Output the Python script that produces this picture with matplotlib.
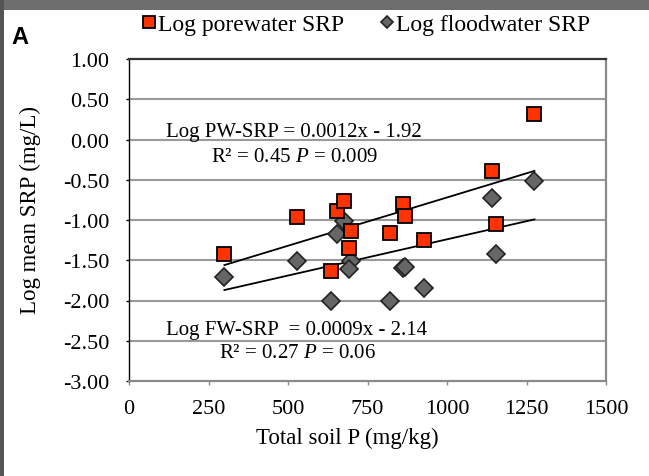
import matplotlib
matplotlib.use("Agg")
import matplotlib.pyplot as plt
from matplotlib.patches import Rectangle
from matplotlib.lines import Line2D
import numpy as np

# ---- data ----
soil_p = [300, 528, 636, 655, 676, 698, 692, 821, 863, 868, 928, 1143, 1153, 1275]
log_pw_srp = [-1.42, -0.96, -1.63, -0.89, -0.77, -1.14, -1.35, -1.16, -0.80, -0.95, -1.25, -0.39, -1.05, 0.32]
log_fw_srp = [-1.71, -1.51, -2.00, -1.18, -1.01, -1.51, -1.61, -2.00, -1.60, -1.58, -1.85, -0.73, -1.42, -0.51]
pw_slope, pw_intercept = 0.0012, -1.92
fw_slope, fw_intercept = 0.0009, -2.14
x_ticks = [0, 250, 500, 750, 1000, 1250, 1500]
y_ticks = [1.00, 0.50, 0.00, -0.50, -1.00, -1.50, -2.00, -2.50, -3.00]

plt.rcParams['font.family'] = ['Liberation Serif', 'DejaVu Serif']
plt.rcParams['mathtext.fontset'] = 'custom'
plt.rcParams['mathtext.rm'] = 'Liberation Serif'
plt.rcParams['mathtext.it'] = 'Liberation Serif:italic'

W, H = 649, 477
fig = plt.figure(figsize=(W / 100, H / 100), dpi=100, facecolor='white')

# dark photo border
fig.patches.append(Rectangle((0, 1 - 11 / H), 1, 11 / H, transform=fig.transFigure,
                             facecolor='#6e6e6e', edgecolor='none', zorder=-10))
fig.patches.append(Rectangle((0, 0), 4 / W, 1, transform=fig.transFigure,
                             facecolor='#555555', edgecolor='none', zorder=-10))

left, right, top, bottom = 129, 606, 60, 382
ax = fig.add_axes([left / W, 1 - bottom / H, (right - left) / W, (bottom - top) / H])

ax.set_xlim(0, 1500)
ax.set_ylim(-3.0, 1.0)
ax.set_xticks(x_ticks)
ax.set_xticklabels([str(v) for v in x_ticks])
ax.set_yticks(y_ticks)
ax.set_yticklabels([f"{v:.2f}" for v in y_ticks])

for y in y_ticks[1:-1]:
    ax.axhline(y, color='#9a9a9a', lw=1.5, zorder=0)

ax.spines['left'].set_color('black')
ax.spines['left'].set_linewidth(1.0)
ax.spines['top'].set_color('#333333')
ax.spines['top'].set_linewidth(1.6)
ax.spines['right'].set_color('#8a8a8a')
ax.spines['right'].set_linewidth(1.6)
ax.spines['bottom'].set_color('#8a8a8a')
ax.spines['bottom'].set_linewidth(1.6)

ax.tick_params(axis='x', direction='out', length=3, width=1, color='#8a8a8a',
               labelsize=16, pad=10)
ax.tick_params(axis='y', direction='out', length=2, width=1, color='black',
               labelsize=16, pad=12)

# trend lines
xs = np.array([min(soil_p), max(soil_p)])
ax.plot(xs, pw_slope * xs + pw_intercept, color='black', lw=1.3, zorder=2)
ax.plot(xs, fw_slope * xs + fw_intercept, color='black', lw=1.3, zorder=2)

# points
ax.plot(soil_p, log_fw_srp, linestyle='none', marker='D', markersize=9,
        markerfacecolor='#666666', markeredgecolor='#222222', markeredgewidth=1.2, zorder=3)
ax.plot(soil_p, log_pw_srp, linestyle='none', marker='s', markersize=10,
        markerfacecolor='#ff3300', markeredgecolor='black', markeredgewidth=1.3, zorder=4)

# equations
ax.text(520, 0.10, "Log PW-SRP = 0.0012x - 1.92", ha='center', va='center', fontsize=15)
ax.text(520, -0.21, "R² = 0.45 $\\it{P}$ = 0.009", ha='center', va='center', fontsize=15)
ax.text(528, -2.36, "Log FW-SRP  = 0.0009x - 2.14", ha='center', va='center', fontsize=15)
ax.text(530, -2.65, "R² = 0.27 $\\it{P}$ = 0.06", ha='center', va='center', fontsize=15)

ax.set_xlabel("Total soil P (mg/kg)", fontsize=16.5)
ax.xaxis.set_label_coords((347 - left) / (right - left), (bottom - 428) / (bottom - top))
ax.set_ylabel("Log mean SRP (mg/L)", fontsize=16.5)
ax.yaxis.set_label_coords((41 - left) / (right - left), (bottom - 210) / (bottom - top))

# legend
handles = [
    Line2D([], [], linestyle='none', marker='s', markersize=9, markerfacecolor='#ff3300',
           markeredgecolor='black', markeredgewidth=1.3, label='Log porewater SRP'),
    Line2D([], [], linestyle='none', marker='D', markersize=6.5, markerfacecolor='#666666',
           markeredgecolor='#222222', markeredgewidth=1.2, label='Log floodwater SRP'),
]
fig.legend(handles=handles, loc='center', bbox_to_anchor=(366 / W, 1 - 25 / H), ncol=2,
           frameon=False, fontsize=17, handlelength=0.6, handletextpad=0.1,
           columnspacing=1.5, borderpad=0)

fig.text(20 / W, 1 - 38 / H, "A", ha='center', va='center', fontsize=17,
         fontweight='bold', family=['Liberation Sans', 'DejaVu Sans'])

fig.savefig("out.png", dpi=100, facecolor='white')
